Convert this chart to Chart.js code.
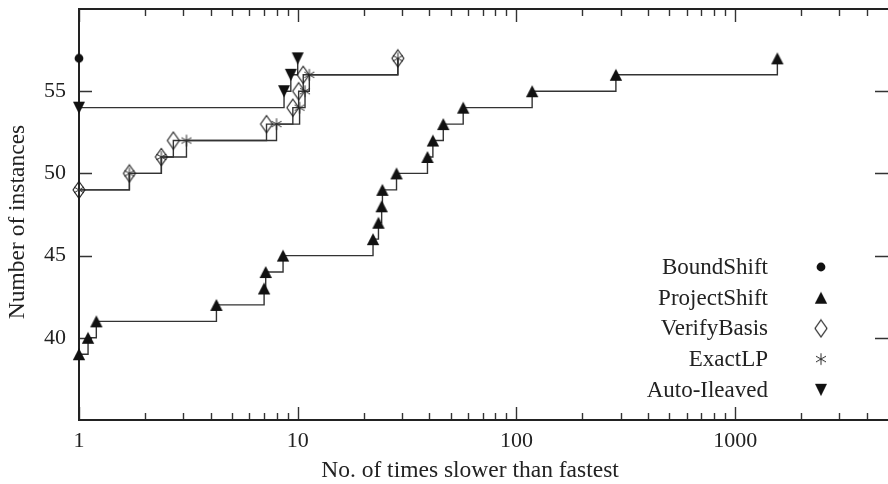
<!DOCTYPE html>
<html>
<head>
<meta charset="utf-8">
<script src="https://cdn.jsdelivr.net/npm/chart.js@4.4.1/dist/chart.umd.min.js"></script>
<style>
  html, body { margin: 0; padding: 0; background: #fff; }
  #wrap { width: 888px; height: 484px; }
</style>
</head>
<body>
<div id="wrap"><canvas id="chart" width="888" height="484"></canvas></div>
<script>
// performance profile: ratio to fastest (x) vs. number of instances solved (y)
const boundShiftX = [1];
const boundShiftY = [57];

const projectShiftX = [1, 1.1, 1.2, 4.25, 7.02, 7.14, 8.57, 22.1, 23.4, 24.2, 24.4, 28.3, 39.2, 41.5, 46.3, 57.1, 118, 285, 1560];
const projectShiftY = [39, 40, 41, 42, 43, 44, 45, 46, 47, 48, 49, 50, 51, 52, 53, 54, 55, 56, 57];

const verifyBasisX = [1, 1.7, 2.38, 2.7, 7.2, 9.5, 10.1, 10.6, 28.7];
const verifyBasisY = [49, 50, 51, 52, 53, 54, 55, 56, 57];

const exactLPX = [1, 1.7, 2.38, 3.1, 8.0, 10.2, 10.8, 11.3, 28.7];
const exactLPY = [49, 50, 51, 52, 53, 54, 55, 56, 57];

const autoIleavedX = [1, 8.66, 9.3, 10.0];
const autoIleavedY = [54, 55, 56, 57];

const xTickLabels = [1, 10, 100, 1000];
const xMinorTicks = [2, 3, 4, 5, 6, 7, 8, 9, 20, 30, 40, 50, 60, 70, 80, 90,
  200, 300, 400, 500, 600, 700, 800, 900, 2000, 3000, 4000];
const yTickLabels = [40, 45, 50, 55];

const xTitle = 'No. of times slower than fastest';
const yTitle = 'Number of instances';

const FONT = "'Liberation Serif', 'DejaVu Serif', serif";
const INK = '#222';
const LINE = '#333';

// small canvases used as point styles
function marker(kind) {
  const c = document.createElement('canvas');
  c.width = 20; c.height = 20;
  const g = c.getContext('2d');
  g.translate(10, 10);
  g.fillStyle = '#111';
  g.strokeStyle = '#1a1a1a';
  g.lineWidth = 1.1;
  if (kind === 'up') {
    g.beginPath(); g.moveTo(0, -6); g.lineTo(6.2, 6); g.lineTo(-6.2, 6); g.closePath(); g.fill();
  } else if (kind === 'down') {
    g.beginPath(); g.moveTo(0, 6.3); g.lineTo(6, -6); g.lineTo(-6, -6); g.closePath(); g.fill();
  } else if (kind === 'dot') {
    g.beginPath(); g.arc(0, 0, 4.4, 0, Math.PI * 2); g.fill();
  } else if (kind === 'diamond') {
    g.beginPath(); g.moveTo(0, -8.5); g.lineTo(6, 0); g.lineTo(0, 8.5); g.lineTo(-6, 0); g.closePath(); g.stroke();
  } else if (kind === 'star') {
    g.strokeStyle = '#2a2a2a';
    g.lineWidth = 1;
    g.beginPath();
    for (let k = 0; k < 3; k++) {
      const a = Math.PI / 2 + k * Math.PI / 3;
      g.moveTo(Math.cos(a) * 5.8, Math.sin(a) * 5.8);
      g.lineTo(-Math.cos(a) * 5.8, -Math.sin(a) * 5.8);
    }
    g.stroke();
  }
  return c;
}

const markers = {
  dot: marker('dot'), up: marker('up'), diamond: marker('diamond'),
  star: marker('star'), down: marker('down')
};

function pts(xs, ys) {
  return xs.map((x, i) => ({ x: x, y: ys[i] }));
}

function series(label, xs, ys, style) {
  return {
    label: label,
    data: pts(xs, ys),
    stepped: true,
    borderColor: LINE,
    borderWidth: 1.4,
    pointStyle: markers[style],
    pointRadius: 6,
    pointHoverRadius: 6,
    showLine: xs.length > 1,
    clip: false,
    fill: false
  };
}

const datasets = [
  series('VerifyBasis', verifyBasisX, verifyBasisY, 'diamond'),
  series('ExactLP', exactLPX, exactLPY, 'star'),
  series('ProjectShift', projectShiftX, projectShiftY, 'up'),
  series('Auto-Ileaved', autoIleavedX, autoIleavedY, 'down'),
  series('BoundShift', boundShiftX, boundShiftY, 'dot')
];

const legendOrder = [
  ['BoundShift', 'dot'],
  ['ProjectShift', 'up'],
  ['VerifyBasis', 'diamond'],
  ['ExactLP', 'star'],
  ['Auto-Ileaved', 'down']
];

// frame with inward ticks on all four sides, axis titles and the legend
const framePlugin = {
  id: 'frame',
  beforeDatasetsDraw(chart) {
    const { ctx, chartArea: a, scales } = chart;
    const xs = scales.x, ys = scales.y;
    ctx.save();
    ctx.strokeStyle = '#333';
    ctx.lineWidth = 1.4;
    ctx.beginPath();
    xTickLabels.forEach(v => {
      const px = Math.round(xs.getPixelForValue(v)) + 0.5;
      ctx.moveTo(px, a.bottom); ctx.lineTo(px, a.bottom - 13);
      ctx.moveTo(px, a.top); ctx.lineTo(px, a.top + 13);
    });
    xMinorTicks.forEach(v => {
      const px = Math.round(xs.getPixelForValue(v)) + 0.5;
      ctx.moveTo(px, a.bottom); ctx.lineTo(px, a.bottom - 7);
      ctx.moveTo(px, a.top); ctx.lineTo(px, a.top + 7);
    });
    yTickLabels.forEach(v => {
      const py = Math.round(ys.getPixelForValue(v)) + 0.5;
      ctx.moveTo(a.left, py); ctx.lineTo(a.left + 13, py);
      ctx.moveTo(a.right, py); ctx.lineTo(a.right - 13, py);
    });
    ctx.stroke();

    ctx.strokeStyle = '#222';
    ctx.lineWidth = 2;
    ctx.beginPath();
    ctx.moveTo(a.right + 2, a.top);
    ctx.lineTo(a.left, a.top);
    ctx.lineTo(a.left, a.bottom);
    ctx.lineTo(a.right + 2, a.bottom);
    ctx.stroke();
    ctx.restore();
  },
  afterDraw(chart) {
    const { ctx } = chart;
    ctx.save();
    ctx.fillStyle = INK;
    ctx.textBaseline = 'middle';

    ctx.font = '23.5px ' + FONT;
    ctx.textAlign = 'center';
    ctx.fillText(xTitle, 470, 471);
    ctx.save();
    ctx.translate(18, 222);
    ctx.rotate(-Math.PI / 2);
    ctx.fillText(yTitle, 0, 0);
    ctx.restore();

    ctx.font = '23px ' + FONT;
    ctx.textAlign = 'right';
    legendOrder.forEach(([name, style], i) => {
      const y = 267 + i * 30.7;
      ctx.fillText(name, 768, y + 1);
      const m = markers[style];
      ctx.drawImage(m, 821 - m.width / 2, y - m.height / 2);
    });
    ctx.restore();
  }
};

Chart.defaults.font.family = FONT;
Chart.defaults.font.size = 22;
Chart.defaults.color = INK;

new Chart(document.getElementById('chart'), {
  type: 'line',
  data: { datasets: datasets },
  options: {
    responsive: false,
    animation: false,
    devicePixelRatio: 1,
    layout: { padding: { top: 9, right: 0, left: 0, bottom: 0 }, autoPadding: false },
    plugins: { legend: { display: false }, tooltip: { enabled: false } },
    scales: {
      x: {
        type: 'logarithmic',
        min: 1,
        max: 5000,
        grid: { display: false, drawTicks: false },
        border: { display: false },
        afterBuildTicks: s => {
          s.ticks = xTickLabels.concat(xMinorTicks).sort((a, b) => a - b).map(v => ({ value: v }));
        },
        afterFit: s => {
          s.height = 64;
          s.paddingLeft = 0; s.paddingRight = 0;
        },
        ticks: {
          autoSkip: false,
          maxRotation: 0,
          padding: 8,
          callback: v => (xTickLabels.includes(v) ? String(v) : '')
        }
      },
      y: {
        type: 'linear',
        min: 35,
        max: 60,
        grid: { display: false, drawTicks: false },
        border: { display: false },
        afterBuildTicks: s => {
          s.ticks = yTickLabels.map(v => ({ value: v }));
        },
        afterFit: s => {
          s.width = 79;
          s.paddingTop = 0; s.paddingBottom = 0;
        },
        ticks: { padding: 13 }
      }
    }
  },
  plugins: [framePlugin]
});
</script>
</body>
</html>
